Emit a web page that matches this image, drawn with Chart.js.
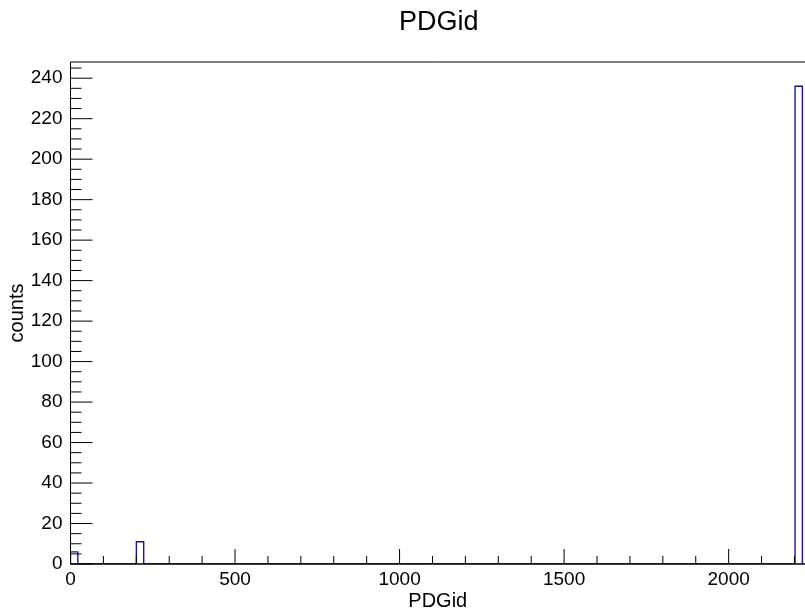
<!DOCTYPE html>
<html lang="en">
<head>
<meta charset="UTF-8" />
<title>PDGid</title>
<style>
    * { margin: 0; padding: 0; box-sizing: border-box; }
    body { background: #ffffff; }
    .chart-box { width: 805px; height: 611px; position: relative; }
</style>
</head>
<body>
<div class="chart-box">
    <canvas id="pdgChart"></canvas>
</div>
<script src="https://cdn.jsdelivr.net/npm/chart.js"></script>
<script>
    // histogram: 100 bins over 0..2224, only the filled bins listed
    const binWidth = 22.24;
    const binStarts = [0, 200.16, 2201.76];
    const counts = [6, 11, 236];

    const xMin = 0;
    const xMax = 2232;
    const yMin = 0;
    const yMax = 248;

    const xTickLabels = [0, 500, 1000, 1500, 2000];
    const yTickLabels = [0, 20, 40, 60, 80, 100, 120, 140, 160, 180, 200, 220, 240];
    const xMinorStep = 100;
    const yMinorStep = 5;

    const FONT = "'Liberation Sans', Arial, Helvetica, sans-serif";

    // ROOT style outline of the histogram
    const outline = [];
    binStarts.forEach((lo, i) => {
        outline.push({ x: lo, y: 0 });
        outline.push({ x: lo, y: counts[i] });
        outline.push({ x: lo + binWidth, y: counts[i] });
        outline.push({ x: lo + binWidth, y: 0 });
    });

    // frame, inward ticks and the main title
    const rootFrame = {
        id: 'rootFrame',
        afterDatasetsDraw(chart) {
            const { ctx, chartArea: a } = chart;
            const xs = chart.scales.x, ys = chart.scales.y;
            ctx.save();
            ctx.strokeStyle = '#000000';
            ctx.lineWidth = 1;
            ctx.beginPath();
            ctx.moveTo(a.left, a.top);
            ctx.lineTo(a.right, a.top);
            ctx.moveTo(a.left, a.top);
            ctx.lineTo(a.left, a.bottom);
            ctx.stroke();
            ctx.lineWidth = 1.5;
            ctx.beginPath();
            ctx.moveTo(a.left, a.bottom);
            ctx.lineTo(a.right, a.bottom);
            ctx.stroke();

            ctx.lineWidth = 1;
            ctx.beginPath();
            for (let v = xMin; v <= xMax; v += xMinorStep) {
                const px = xs.getPixelForValue(v);
                const len = xTickLabels.includes(v) ? 15 : 8;
                ctx.moveTo(px, a.bottom);
                ctx.lineTo(px, a.bottom - len);
            }
            for (let v = yMin; v <= yMax; v += yMinorStep) {
                const py = ys.getPixelForValue(v);
                const len = yTickLabels.includes(v) ? 22 : 11;
                ctx.moveTo(a.left, py);
                ctx.lineTo(a.left + len, py);
            }
            ctx.stroke();

            ctx.fillStyle = '#000000';
            ctx.font = '27px ' + FONT;
            ctx.textAlign = 'center';
            ctx.textBaseline = 'alphabetic';
            ctx.fillText('PDGid', (a.left + a.right) / 2 + 1, 30);
            ctx.restore();
        }
    };

    new Chart(document.getElementById('pdgChart'), {
        type: 'scatter',
        data: {
            datasets: [{
                label: 'PDGid',
                data: outline,
                showLine: true,
                borderColor: '#1414aa',
                borderWidth: 1.4,
                pointRadius: 0,
                tension: 0,
                fill: false
            }]
        },
        options: {
            responsive: true,
            maintainAspectRatio: false,
            animation: false,
            layout: { padding: { top: 62, left: 0, right: 0, bottom: 0 } },
            plugins: {
                legend: { display: false },
                title: { display: false },
                tooltip: { enabled: false }
            },
            scales: {
                x: {
                    type: 'linear',
                    min: xMin,
                    max: xMax,
                    grid: { display: false, drawTicks: false },
                    border: { display: false },
                    afterBuildTicks: s => { s.ticks = xTickLabels.map(v => ({ value: v })); },
                    afterFit: s => { s.height = 47; },
                    ticks: {
                        autoSkip: false,
                        maxRotation: 0,
                        padding: 4,
                        color: '#000000',
                        font: { family: FONT, size: 19 },
                        callback: v => String(v)
                    },
                    title: {
                        display: true,
                        text: 'PDGid',
                        color: '#000000',
                        font: { family: FONT, size: 20, lineHeight: 1 },
                        padding: { top: 0, bottom: 0 }
                    }
                },
                y: {
                    type: 'linear',
                    min: yMin,
                    max: yMax,
                    grid: { display: false, drawTicks: false },
                    border: { display: false },
                    afterBuildTicks: s => { s.ticks = yTickLabels.map(v => ({ value: v })); },
                    afterFit: s => { s.width = 70.5; },
                    ticks: {
                        autoSkip: false,
                        padding: 8,
                        color: '#000000',
                        font: { family: FONT, size: 19 },
                        callback: v => String(v)
                    },
                    title: {
                        display: true,
                        text: 'counts',
                        color: '#000000',
                        font: { family: FONT, size: 20, lineHeight: 1 },
                        padding: { top: 7, bottom: 0 }
                    }
                }
            }
        },
        plugins: [rootFrame]
    });
</script>
</body>
</html>
